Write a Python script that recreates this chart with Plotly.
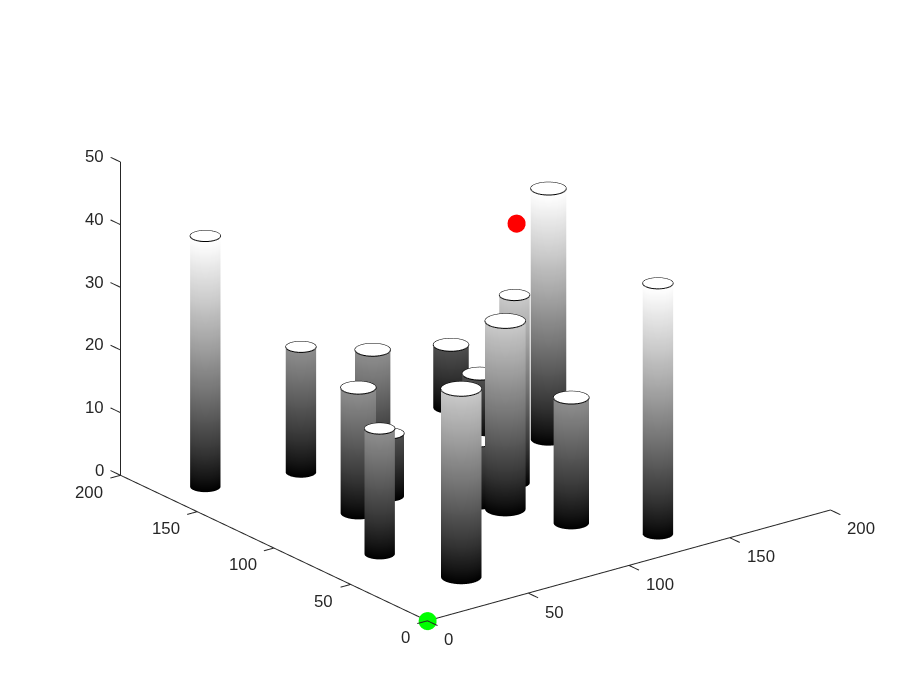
import numpy as np
import plotly.graph_objects as go

# cylinder data
cyl_x = [19.1, 58.7, 79.3, 49.7, 70.5, 29.3, 148.7, 138.7, 93.7, 118.6, 98.5, 158.3, 110.0, 129.9, 39.7]
cyl_y = [169.8, 159.5, 139.8, 110.3, 117.7, 69.6, 179.9, 147.9, 89.1, 99.0, 78.6, 129.0, 50.7, 20.4, 30.1]
cyl_r = [6, 6, 7, 7, 6, 6, 7, 7, 6, 6, 8, 7, 7, 6, 8]
cyl_h = [40, 20, 20, 20, 10, 20, 10, 10, 10, 30, 30, 40, 20, 40, 30]
start_point = [0, 0, 0]
goal_point = [185, 185, 25.6]
x_ticks = [0, 50, 100, 150, 200]
y_ticks = [0, 50, 100, 150, 200]
z_ticks = [0, 10, 20, 30, 40, 50]

AX = "#262626"
theta = np.linspace(0, 2 * np.pi, 61)
stops = np.linspace(0, 1, 21)
gray_scale = [[float(t), "rgb({0},{0},{0})".format(int(round(255 * t ** 0.85)))] for t in stops]
fig = go.Figure()
for cx, cy, r, h in zip(cyl_x, cyl_y, cyl_r, cyl_h):
    zz = np.linspace(0, h, 33)
    T, Z = np.meshgrid(theta, zz)
    light = dict(ambient=1, diffuse=0, specular=0, roughness=1, fresnel=0)
    fig.add_trace(go.Surface(x=cx + r * np.cos(T), y=cy + r * np.sin(T), z=Z, surfacecolor=Z,
                             colorscale=gray_scale, cmin=0, cmax=40, showscale=False,
                             lighting=light, hoverinfo="skip"))
    rad = np.array([0, r])
    T2, R2 = np.meshgrid(theta, rad)
    fig.add_trace(go.Surface(x=cx + R2 * np.cos(T2), y=cy + R2 * np.sin(T2), z=np.full(T2.shape, h),
                             surfacecolor=np.ones(T2.shape), colorscale=[[0, "white"], [1, "white"]],
                             cmin=0, cmax=1, showscale=False, lighting=light, hoverinfo="skip"))
    fig.add_trace(go.Scatter3d(x=cx + r * np.cos(theta), y=cy + r * np.sin(theta), z=np.full(theta.shape, h),
                               mode="lines", line=dict(color="black", width=2), hoverinfo="skip"))

def seg(points):
    xs, ys, zs = [], [], []
    for a, b in points:
        xs += [a[0], b[0], None]; ys += [a[1], b[1], None]; zs += [a[2], b[2], None]
    return xs, ys, zs

segs = [((0, 0, 0), (200, 0, 0)), ((0, 0, 0), (0, 200, 0)), ((0, 200, 0), (0, 200, 50))]
segs += [((t, 0, 0), (t, -6.5, 0)) for t in x_ticks]
segs += [((0, t, 0), (-5, t, 0)) for t in y_ticks]
segs += [((0, 200, t), (0, 206.5, t)) for t in z_ticks]
xs, ys, zs = seg(segs)
fig.add_trace(go.Scatter3d(x=xs, y=ys, z=zs, mode="lines", line=dict(color=AX, width=2), hoverinfo="skip"))

for pt, col in ((start_point, "#00ff00"), (goal_point, "#ff0000")):
    fig.add_trace(go.Scatter3d(x=[pt[0]], y=[pt[1]], z=[pt[2]], mode="markers",
                               marker=dict(size=10.5, color=col, line=dict(width=0)), hoverinfo="skip"))

font = dict(family="Liberation Sans, Arial", size=16.8, color=AX)
ann = []
for t in x_ticks:
    ann.append(dict(x=t, y=0, z=0, text=str(t), showarrow=False, font=font, xanchor="left", yanchor="middle", xshift=15, yshift=-19))
for t in y_ticks:
    ann.append(dict(x=0, y=t, z=0, text=str(t), showarrow=False, font=font, xanchor="right", yanchor="middle", xshift=-15, yshift=-17))
for t in z_ticks:
    ann.append(dict(x=0, y=200, z=t, text=str(t), showarrow=False, font=font, xanchor="right", yanchor="middle", xshift=-14, yshift=5))

hidden = dict(visible=False, showspikes=False)
k = 2.0
fig.update_layout(
    width=918, height=698, margin=dict(l=0, r=0, t=0, b=0), showlegend=False,
    paper_bgcolor="white",
    scene=dict(
        domain=dict(x=[0.018, 1], y=[0.0603, 1]),
        xaxis=dict(range=[-30, 230], **hidden),
        yaxis=dict(range=[-30, 230], **hidden),
        zaxis=dict(range=[-5, 55], **hidden),
        aspectmode="manual", aspectratio=dict(x=2.008, y=2.008, z=1.229),
        camera=dict(eye=dict(x=-0.565 * k, y=-0.742 * k, z=0.361 * k), up=dict(x=0, y=0, z=1),
                    center=dict(x=0, y=0, z=0), projection=dict(type="orthographic")),
        annotations=ann,
    ),
)
fig.write_html("out.html")
